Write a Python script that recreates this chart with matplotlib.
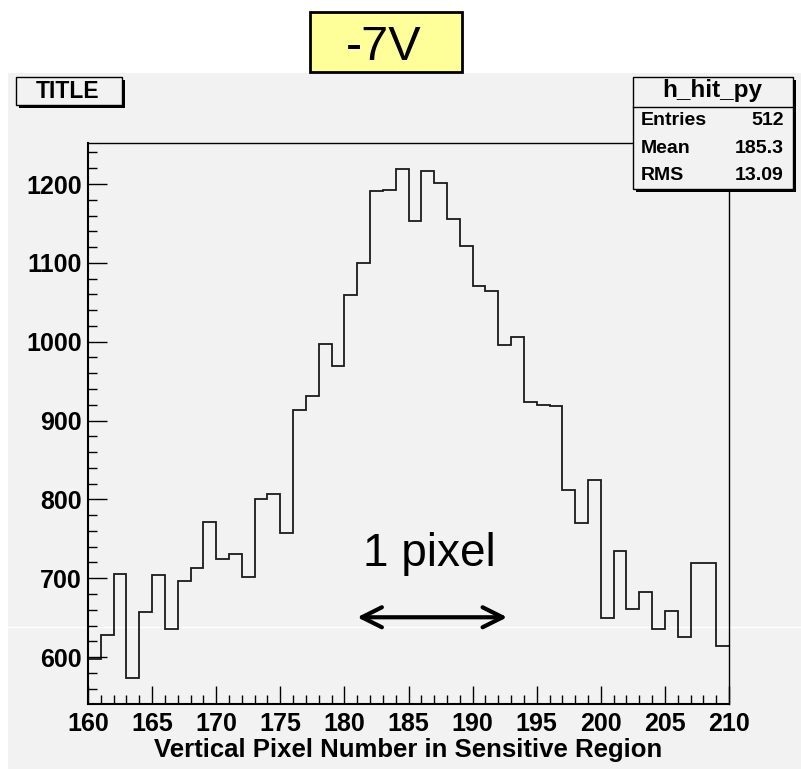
import matplotlib
matplotlib.use('Agg')
from matplotlib import pyplot as plt
from matplotlib.patches import Rectangle
from matplotlib.lines import Line2D
from matplotlib.ticker import MultipleLocator
import numpy as np

plt.rcParams['font.family'] = ['Liberation Sans', 'DejaVu Sans']

#--- histogram h_hit_py, one bin per pixel from 160 to 210
edges = np.arange(160, 211)
counts = [597, 628, 705, 573, 657, 704, 636, 696, 713, 771,
          724, 731, 702, 801, 807, 757, 914, 931, 997, 969,
          1059, 1100, 1191, 1193, 1219, 1153, 1217, 1201, 1155, 1121,
          1071, 1064, 996, 1006, 923, 920, 918, 812, 770, 825,
          650, 734, 661, 683, 635, 658, 625, 719, 719, 614]

stat_names = ['Entries', 'Mean', 'RMS']
stat_values = ['512', '185.3', '13.09']

W, H = 801, 769
GRAY = '#f2f2f2'


def fx(px):
    return px / W


def fy(py):
    return 1 - py / H


def box(fig, x0, y0, x1, y1, face, shadow=0, lw=1.0):
    # box given in pixels from the top-left corner
    if shadow:
        fig.add_artist(Rectangle((fx(x0 + shadow), fy(y1 + shadow)),
                                 fx(x1 - x0), (y1 - y0) / H,
                                 transform=fig.transFigure,
                                 facecolor='black', edgecolor='none', zorder=4))
    fig.add_artist(Rectangle((fx(x0), fy(y1)), fx(x1 - x0), (y1 - y0) / H,
                             transform=fig.transFigure, facecolor=face,
                             edgecolor='black', lw=lw, zorder=5))


fig = plt.figure(figsize=(W / 100, H / 100), dpi=100)
fig.patch.set_facecolor('white')

# pad background and the thin white stripe
fig.add_artist(Rectangle((fx(8), 0), fx(W - 8), fy(73), transform=fig.transFigure,
                         facecolor=GRAY, edgecolor='none', zorder=-2))
fig.add_artist(Line2D([fx(8), 1], [fy(627), fy(627)], transform=fig.transFigure,
                      color='white', lw=1.0, zorder=-1))

ax = fig.add_axes([fx(88), fy(704), fx(729 - 88), (704 - 143) / H])
ax.set_facecolor('none')
ax.stairs(counts, edges, baseline=None, color='#1a1a1a', lw=1.3)

ax.set_xlim(160, 210)
ax.set_ylim(540.5, 1252)
ax.xaxis.set_major_locator(MultipleLocator(5))
ax.xaxis.set_minor_locator(MultipleLocator(1))
ax.yaxis.set_major_locator(MultipleLocator(100))
ax.yaxis.set_minor_locator(MultipleLocator(20))
ax.tick_params(axis='both', which='both', direction='in', colors='black')
ax.tick_params(axis='y', which='major', length=13.7, width=1.0, pad=4.5)
ax.tick_params(axis='y', which='minor', length=6.8, width=1.0)
ax.tick_params(axis='x', which='major', length=13, width=1.0, pad=6)
ax.tick_params(axis='x', which='minor', length=6.5, width=1.0)
for lab in ax.get_xticklabels() + ax.get_yticklabels():
    lab.set_fontsize(18)
    lab.set_fontweight('bold')

ax.spines['left'].set_linewidth(1.5)
ax.spines['bottom'].set_linewidth(1.5)
ax.spines['top'].set_linewidth(1.0)
ax.spines['right'].set_linewidth(1.0)

ax.set_xlabel('Vertical Pixel Number in Sensitive Region',
              fontsize=18.5, fontweight='bold')
ax.xaxis.label.set_va('baseline')
ax.xaxis.set_label_coords(0.5, -(756.7 - 704) / 561)

# annotation: arrow showing one pixel
ax.annotate('', xy=(181.0, 650.5), xytext=(192.7, 650.5),
            arrowprops=dict(arrowstyle='<->', lw=3, color='black',
                            mutation_scale=36, shrinkA=0, shrinkB=0))
ax.text(186.6, 715, '1 pixel', fontsize=33, ha='center', va='baseline')

# yellow voltage label
box(fig, 310, 12, 462, 72, '#ffff99', lw=2.0)
fig.text(fx(384), fy(60), '-7V', fontsize=35, ha='center', va='baseline', zorder=6)

# title box
box(fig, 16, 77, 122, 105, GRAY, shadow=3)
fig.text(fx(68), fy(98.3), 'TITLE', fontsize=16.5, fontweight='bold',
         ha='center', va='baseline', zorder=6)

# stats box
box(fig, 633, 77, 793, 189, GRAY, shadow=3)
fig.add_artist(Line2D([fx(633), fx(793)], [fy(107), fy(107)],
                      transform=fig.transFigure, color='black', lw=1.0, zorder=6))
fig.text(fx(712), fy(97), 'h_hit_py', fontsize=17.5, fontweight='bold',
         ha='center', va='baseline', zorder=6)
for i, (name, val) in enumerate(zip(stat_names, stat_values)):
    yb = [125, 153.3, 180][i]
    fig.text(fx(641), fy(yb), name, fontsize=14, fontweight='bold',
             ha='left', va='baseline', zorder=6)
    fig.text(fx(784), fy(yb), val, fontsize=14, fontweight='bold',
             ha='right', va='baseline', zorder=6)

fig.savefig('out.png', dpi=100)
